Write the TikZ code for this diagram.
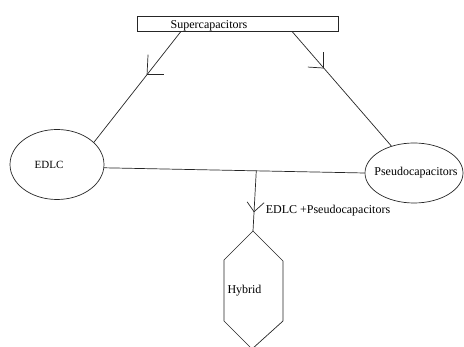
\documentclass[tikz,border=0pt]{standalone}
\usepackage{fontspec}
\setmainfont{Liberation Serif}
\usetikzlibrary{shapes.geometric,calc}
\begin{document}
\begin{tikzpicture}[x=1pt,y=-1pt,
 ln/.style={draw=black!85,line width=0.7pt},
 lbl/.style={font=\fontsize{12}{14}\selectfont,inner sep=0pt},
 ell/.style={ellipse,draw=black!85,line width=0.7pt,inner sep=0pt}]
\useasboundingbox (0,0) rectangle (464,347);
% boxes
\node[draw=black!85,line width=0.7pt,minimum width=201pt,minimum height=15pt,inner sep=0pt] (sc) at (237.5,23.5) {};
\node[lbl] (sct) at (209,26) {Supercapacitors};
\node[ell,minimum width=94pt,minimum height=70pt] (edlc) at (57,164.5) {};
\node[lbl,font=\fontsize{11}{13}\selectfont] (edlct) at (49,165) {EDLC};
\node[ell,minimum width=98pt,minimum height=60pt] (pseudo) at (414,173) {};
\node[lbl] (pseudot) at (416,173) {Pseudocapacitors};
% hexagon
\coordinate (h1) at (253,231);
\coordinate (h2) at (283,261);
\coordinate (h3) at (283,321);
\coordinate (h4) at (252,349);
\coordinate (h5) at (224,321);
\coordinate (h6) at (224,260);
\draw[ln] (h1) -- (h2) -- (h3) -- (h4) -- (h5) -- (h6) -- cycle;
\node[lbl] (hyb) at (244.5,291) {Hybrid};
% connectors
\coordinate (l0) at ($(sc.south west)!0.22!(sc.south east)$);
\draw[ln] (l0) -- coordinate[pos=0.39] (la) (edlc.31);
\draw[ln] (la) -- ++(1,-20);
\draw[ln] (la) -- ++(17,0);
\coordinate (r0) at ($(sc.south west)!0.77!(sc.south east)$);
\draw[ln] (r0) -- coordinate[pos=0.32] (ra) (pseudo.130);
\draw[ln] (ra) -- ++(0,-16);
\draw[ln] (ra) -- ++(-16,-1);
\draw[ln] (edlc.-4) -- coordinate[pos=0.584] (hm) (pseudo.west);
\draw[ln] (hm) -- coordinate[pos=0.68] (ha) (h1);
\draw[ln] (ha) -- ++(-7,-10);
\draw[ln] (ha) -- ++(10,-9);
\node[lbl] (mix) at (328,211) {EDLC +Pseudocapacitors};
\end{tikzpicture}
\end{document}
